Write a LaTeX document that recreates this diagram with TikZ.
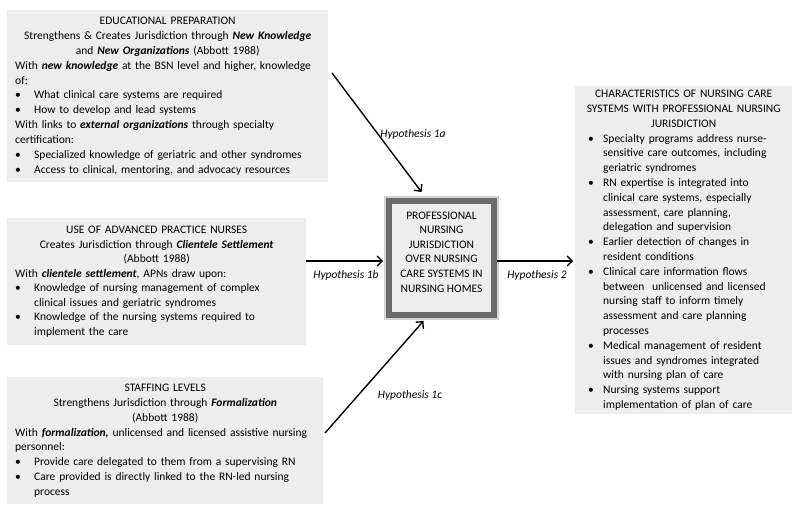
\documentclass[tikz,border=0pt]{standalone}
\usepackage{fontspec}
\setmainfont{Carlito}
\usetikzlibrary{arrows.meta}

\definecolor{boxgray}{RGB}{237,237,237}
\definecolor{rimgray}{RGB}{108,108,108}

\newcommand{\blt}[2][19pt]{\par\noindent\hangindent=#1\hangafter=1\makebox[#1][l]{\textbullet}#2}
\newcommand{\bi}[1]{\textbf{\textit{#1}}}

\tikzset{
  factor/.style={fill=boxgray, anchor=north west, align=left, inner xsep=8pt, inner ysep=4pt,
    font=\fontsize{11.5}{14.5}\selectfont},
  hyp/.style={font=\itshape\fontsize{11.5}{14}\selectfont},
  link/.style={line width=1.4pt, -{Straight Barb[length=5pt,width=10pt]}}
}

\begin{document}
\begin{tikzpicture}[x=1pt,y=-1pt]

      \useasboundingbox (0,0) rectangle (800,514);

      \node[factor, text width=305pt, minimum height=172pt, font=\fontsize{11.5}{14.9}\selectfont] (edu) at (7,10) {{\centering EDUCATIONAL PREPARATION\\
        Strengthens \& Creates Jurisdiction through \bi{New Knowledge}\\
        and \bi{New Organizations} (Abbott 1988)\par}
        With \bi{new knowledge} at the BSN level and higher, knowledge\\ of:
        \blt{What clinical care systems are required}
        \blt{How to develop and lead systems}
        \par With links to \bi{external organizations} through specialty\\ certification:
        \blt{Specialized knowledge of geriatric and other syndromes}
        \blt{Access to clinical, mentoring, and advocacy resources}\par};

      \node[factor, text width=283pt, minimum height=127pt] (apn) at (7,218) {{\centering USE OF ADVANCED PRACTICE NURSES\\
        Creates Jurisdiction through \bi{Clientele Settlement}\\
        (Abbott 1988)\par}
        With \bi{clientele settlement}, APNs draw upon:
        \blt{Knowledge of nursing management of complex\newline clinical issues and geriatric syndromes}
        \blt{Knowledge of the nursing systems required to\newline implement the care}\par};

      \node[factor, text width=300pt, minimum height=127pt, font=\fontsize{11.5}{14.8}\selectfont] (staff) at (7,377) {{\centering STAFFING LEVELS\\
        Strengthens Jurisdiction through \bi{Formalization}\\
        (Abbott 1988)\par}
        With \bi{formalization,} unlicensed and licensed assistive nursing\\ personnel:
        \blt{Provide care delegated to them from a supervising RN}
        \blt{Care provided is directly linked to the RN-led nursing\newline process}\par};

      \node[factor, inner xsep=4pt, text width=209pt, minimum height=326pt, font=\fontsize{11.5}{14.8}\selectfont] (chars) at (575,86) {{\centering CHARACTERISTICS OF NURSING CARE\\
        SYSTEMS WITH PROFESSIONAL NURSING\\
        JURISDICTION\par}
        \leftskip=9pt
        \blt[15pt]{Specialty programs address nurse-\newline sensitive care outcomes, including\newline geriatric syndromes}
        \blt[15pt]{RN expertise is integrated into\newline clinical care systems, especially\newline assessment, care planning,\newline delegation and supervision}
        \blt[15pt]{Earlier detection of changes in\newline resident conditions}
        \blt[15pt]{Clinical care information flows\newline between\ \ unlicensed and licensed\newline nursing staff to inform timely\newline assessment and care planning\newline processes}
        \blt[15pt]{Medical management of resident\newline issues and syndromes integrated\newline with nursing plan of care}
        \blt[15pt]{Nursing systems support\newline implementation of plan of care}\par};

      \node[fill=boxgray, draw=rimgray, line width=6pt, preaction={draw=gray!35, line width=10pt},
        minimum width=105pt, minimum height=114pt, inner sep=0pt,
        label={[name=proftext, align=center, yshift=6pt, font=\fontsize{11.5}{14.6}\selectfont]center:PROFESSIONAL\\ NURSING\\ JURISDICTION\\ OVER NURSING\\ CARE SYSTEMS IN\\ NURSING HOMES}] (prof) at (441.5,258) {};

      \coordinate (s1a) at (332,73);
      \coordinate (s1c) at (325,433);

      \draw[link] (s1a) -- ([xshift=-20pt,yshift=6pt]prof.north);
      \draw[link] ([yshift=-3pt]apn.east |- prof.west) -- ([xshift=-3pt,yshift=-3pt]prof.west);
      \draw[link] (s1c) -- ([xshift=-18pt,yshift=-3pt]prof.south);
      \draw[link, shorten >=2pt] ([yshift=-3pt]prof.east) -- ([yshift=-3pt]prof.east -| chars.west);

      \node[hyp] (h1a) at (413,134) {Hypothesis 1a};
      \node[hyp] (h1b) at (346,275) {Hypothesis 1b};
      \node[hyp] (h1c) at (410,395) {Hypothesis 1c};
      \node[hyp] (h2) at (537,275) {Hypothesis 2};

    \end{tikzpicture}
\end{document}
